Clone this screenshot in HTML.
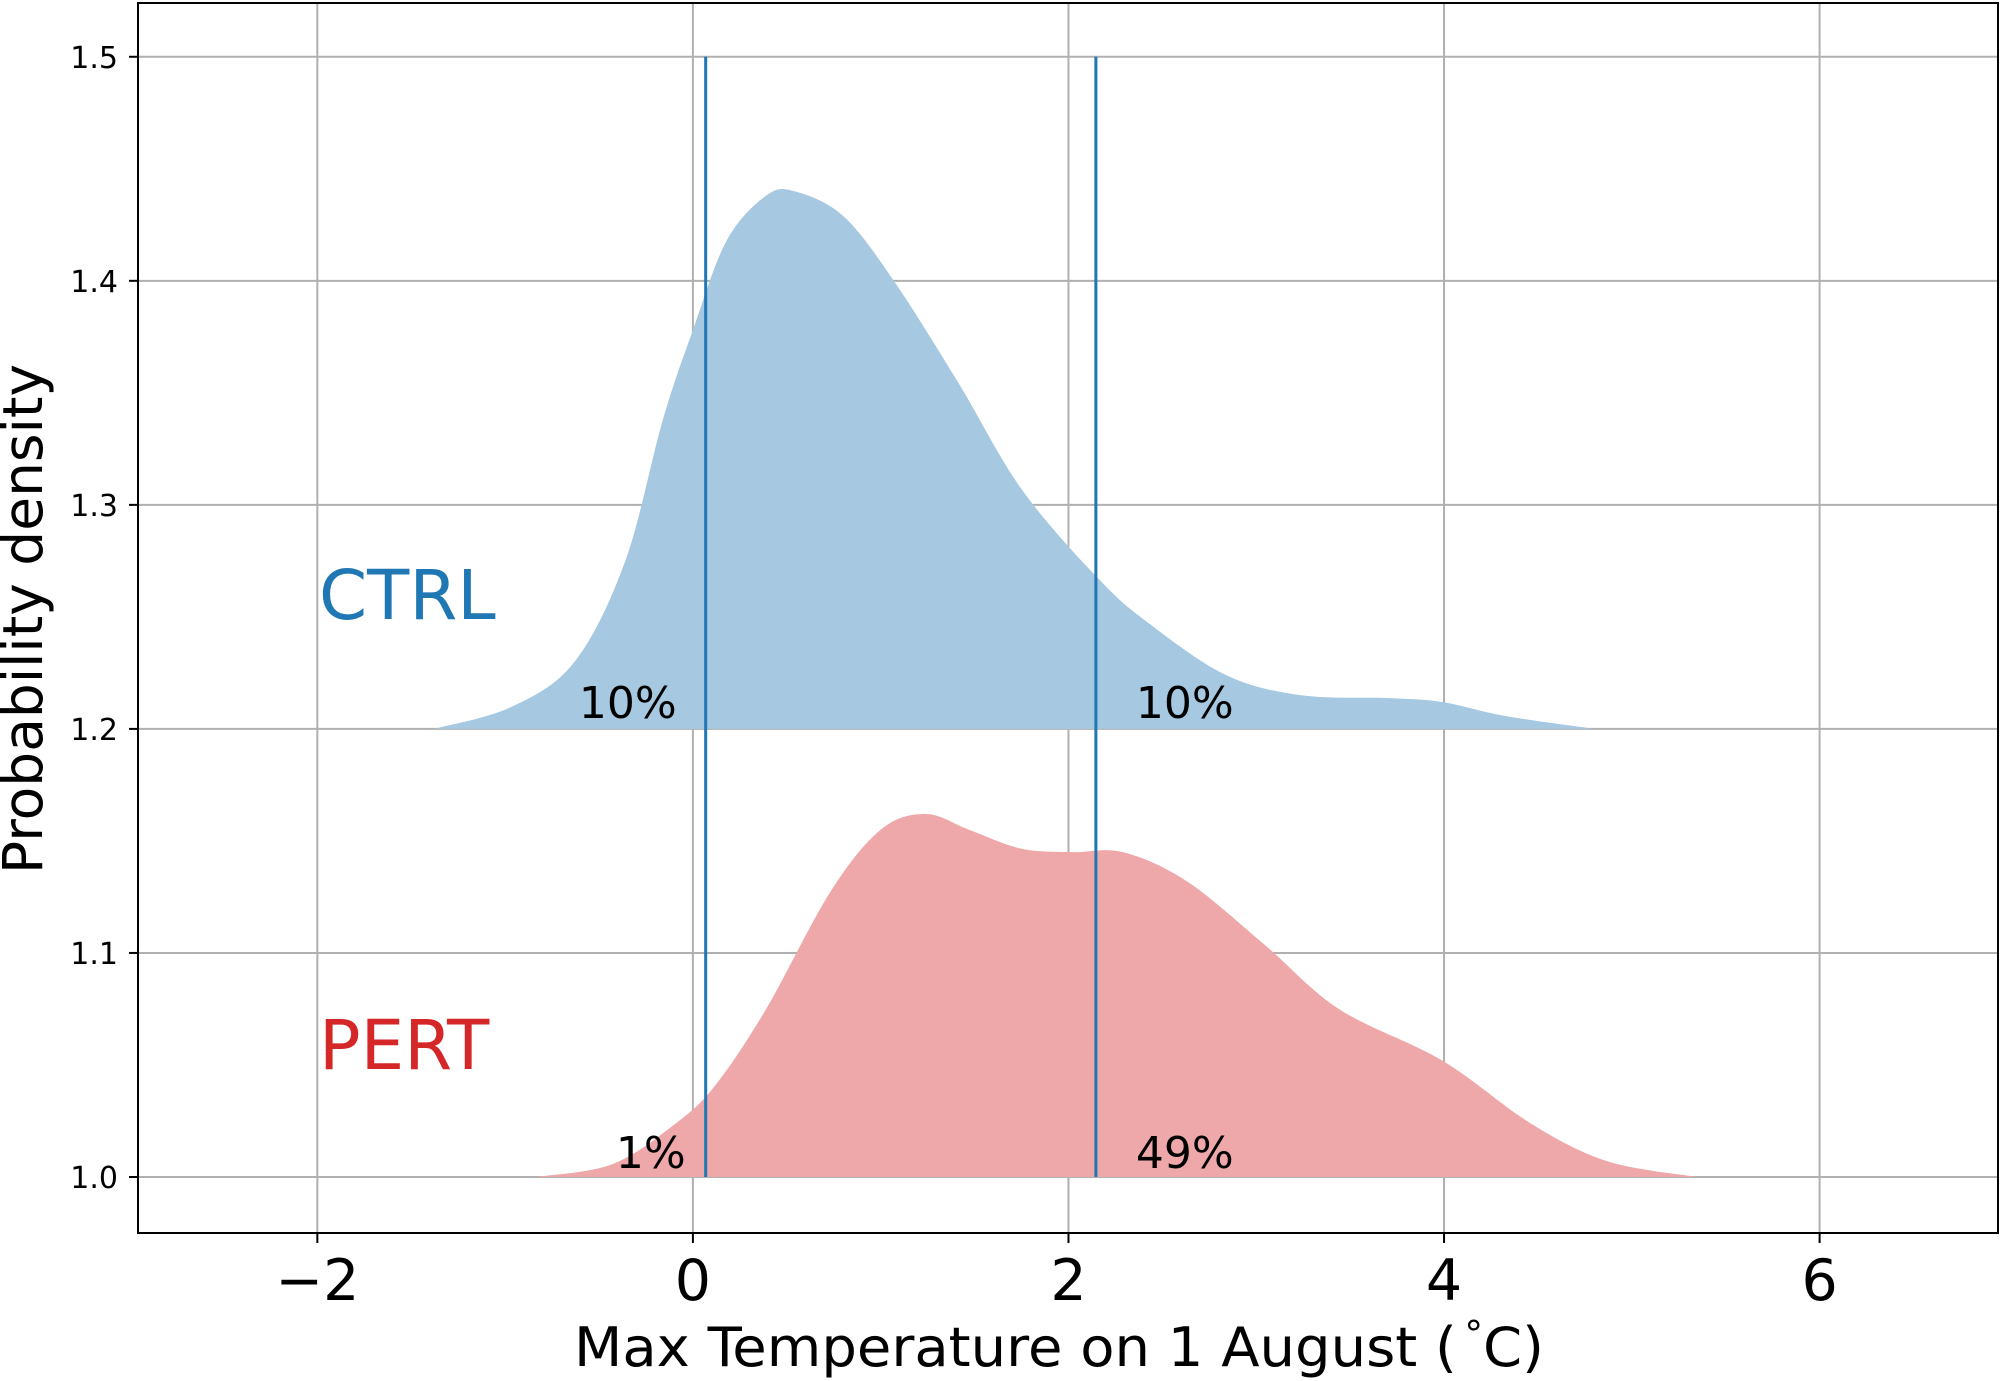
<!DOCTYPE html>
<html><head><meta charset="utf-8"><style>
html,body{margin:0;padding:0;background:#fff;}
svg{display:block;font-family:"DejaVu Sans","Liberation Sans",sans-serif;}
</style></head><body>
<svg id="chart" width="2001" height="1381" viewBox="0 0 2001 1381" xmlns="http://www.w3.org/2000/svg"></svg>
<script>
const ctrlX = [-1.38,-0.97,-0.63,-0.36,-0.16,0,0.18,0.39,0.54,0.80,1.07,1.41,1.75,2.16,2.43,2.84,3.24,3.72,3.99,4.33,4.80];
const ctrlY = [0,0.0097,0.030,0.075,0.138,0.178,0.218,0.238,0.240,0.229,0.200,0.155,0.107,0.067,0.047,0.024,0.015,0.0137,0.012,0.0057,0];
const pertX = [-0.84,-0.43,-0.09,0.12,0.39,0.73,1.0,1.24,1.47,1.75,2.02,2.29,2.63,3.04,3.44,3.99,4.46,4.87,5.35];
const pertY = [0,0.0057,0.024,0.041,0.075,0.127,0.155,0.162,0.155,0.1465,0.145,0.145,0.132,0.104,0.075,0.052,0.024,0.007,0];
const ctrlBase = 1.2, pertBase = 1.0;
const thresholds = [0.068, 2.146];
const ctrlPct = ["10%","10%"];
const pertPct = ["1%","49%"];
const xTicks = [-2,0,2,4,6];
const xTickLabels = ["\u22122","0","2","4","6"];
const yTicks = [1.0,1.1,1.2,1.3,1.4,1.5];
const yTickLabels = ["1.0","1.1","1.2","1.3","1.4","1.5"];

const L=138,R=1998,T=3,B=1233;
const xMin=-2.955,xMax=6.95,yMin=0.975,yMax=1.524;
const sx=v=>L+(v-xMin)/(xMax-xMin)*(R-L);
const sy=v=>B-(v-yMin)/(yMax-yMin)*(B-T);
const svg=document.getElementById('chart');
const NS='http://www.w3.org/2000/svg';
function mk(tag,attrs,parent){const e=document.createElementNS(NS,tag);for(const k in attrs)e.setAttribute(k,attrs[k]);(parent||svg).appendChild(e);return e;}

xTicks.forEach((t,i)=>{
  const g=mk('line',{x1:sx(t),x2:sx(t),y1:T,y2:B,stroke:'#b0b0b0','stroke-width':2});
  
  
});
yTicks.forEach((t,i)=>{
  const g=mk('line',{x1:L,x2:R,y1:sy(t),y2:sy(t),stroke:'#b0b0b0','stroke-width':2});
  
  
});

function smoothPath(xs,ys,base){
  const p=xs.map((x,i)=>[sx(x),sy(base+ys[i])]);
  let d=`M${p[0][0]},${sy(base)} L${p[0][0]},${p[0][1]}`;
  for(let i=0;i<p.length-1;i++){
    const p0=p[i-1]||p[i],p1=p[i],p2=p[i+1],p3=p[i+2]||p2;
    const c1=[p1[0]+(p2[0]-p0[0])/6,p1[1]+(p2[1]-p0[1])/6];
    const c2=[p2[0]-(p3[0]-p1[0])/6,p2[1]-(p3[1]-p1[1])/6];
    d+=` C${c1[0]},${c1[1]} ${c2[0]},${c2[1]} ${p2[0]},${p2[1]}`;
  }
  d+=` L${p[p.length-1][0]},${sy(base)} Z`;
  return d;
}
const c=mk('path',{d:smoothPath(ctrlX,ctrlY,ctrlBase),fill:'#a6c8e0'});


const p=mk('path',{d:smoothPath(pertX,pertY,pertBase),fill:'#eea8a9'});



thresholds.forEach(t=>{
  const l=mk('line',{x1:sx(t),x2:sx(t),y1:sy(1.0),y2:sy(1.5),stroke:'#1f77b4','stroke-width':3});
  
  
});

function txt(s,x,y,attrs,name){const e=mk('text',Object.assign({x:x,y:y},attrs));e.textContent=s;return e;}
txt(ctrlPct[0],sx(thresholds[0])-29,718,{'font-size':44,'text-anchor':'end'},'ctrl-low-percent');
txt(ctrlPct[1],sx(thresholds[1])+40,718,{'font-size':44},'ctrl-high-percent');
txt(pertPct[0],sx(thresholds[0])-20,1168,{'font-size':44,'text-anchor':'end'},'pert-low-percent');
txt(pertPct[1],sx(thresholds[1])+40,1168,{'font-size':44},'pert-high-percent');
txt('CTRL',319,619,{'font-size':69,fill:'#1f77b4'},'ctrl-label');
txt('PERT',319,1069,{'font-size':69,fill:'#d62728'},'pert-label');

const sp=mk('rect',{x:L,y:T,width:R-L,height:B-T,fill:'none',stroke:'#000','stroke-width':2});



xTicks.forEach((t,i)=>{
  const k=mk('line',{x1:sx(t),x2:sx(t),y1:B,y2:B+10,stroke:'#000','stroke-width':2});
  
  
  txt(xTickLabels[i],sx(t),1300,{'font-size':57,'text-anchor':'middle'},'x-tick-label');
});
yTicks.forEach((t,i)=>{
  const k=mk('line',{x1:L-9,x2:L,y1:sy(t),y2:sy(t),stroke:'#000','stroke-width':2});
  
  
  txt(yTickLabels[i],118,sy(t)+11,{'font-size':30,'text-anchor':'end'},'y-tick-label');
});
const xt=txt('',1059,1366,{'font-size':54,'text-anchor':'middle',textLength:970,lengthAdjust:'spacingAndGlyphs'},'x-axis-title');
xt.innerHTML='Max Temperature on 1 August (<tspan font-size="36" dy="-20">\u2009\u00b0</tspan><tspan dy="20">C)</tspan>';
txt('Probability density',0,0,{'font-size':55,'text-anchor':'middle',textLength:510,lengthAdjust:'spacingAndGlyphs',transform:'translate(42,619) rotate(-90)'},'y-axis-title');
</script>
</body></html>
